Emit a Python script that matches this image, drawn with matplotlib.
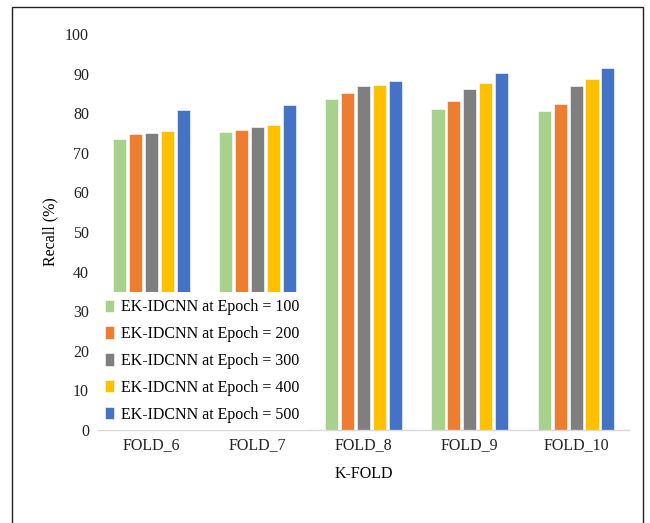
import matplotlib

matplotlib.use("Agg")
import matplotlib.pyplot as plt
import numpy as np
from matplotlib.patches import Rectangle

folds = ["FOLD_6", "FOLD_7", "FOLD_8", "FOLD_9", "FOLD_10"]
epochs = ["100", "200", "300", "400", "500"]

recall_e100 = [73.4, 75.2, 83.5, 81.1, 80.6]
recall_e200 = [74.7, 75.8, 85.0, 83.1, 82.2]
recall_e300 = [75.0, 76.6, 86.9, 86.1, 86.9]
recall_e400 = [75.4, 76.9, 87.2, 87.5, 88.6]
recall_e500 = [80.8, 82.0, 88.1, 90.1, 91.4]

series = [recall_e100, recall_e200, recall_e300, recall_e400, recall_e500]
colors = ["#A9D18E", "#ED7D31", "#7F7F7F", "#FFC000", "#4472C4"]

plt.rcParams["font.family"] = ["Liberation Serif", "DejaVu Serif"]

fig = plt.figure(figsize=(6.5, 5.23), dpi=100)
ax = fig.add_axes([0.151, 0.178, 0.817, 0.757])

x = np.arange(len(folds))
w = 0.15
for i, (vals, c, ep) in enumerate(zip(series, colors, epochs)):
    ax.bar(x + (i - 2) * w, vals, width=w * 0.82, color=c,
           edgecolor="white", linewidth=0.4,
           label=f"EK-IDCNN at Epoch = {ep}", zorder=2)

ax.set_xlim(-0.5, len(folds) - 0.5)
ax.set_ylim(0, 100)
ax.set_yticks(range(0, 101, 10))
ax.set_xticks(x)
ax.set_xticklabels(folds)
ax.tick_params(axis="both", length=0, labelsize=11.5, colors="#222")
ax.tick_params(axis="y", pad=6.5)
ax.tick_params(axis="x", pad=5.5)

for s in ["top", "right", "left"]:
    ax.spines[s].set_visible(False)
ax.spines["bottom"].set_color("#d9d9d9")
ax.spines["bottom"].set_linewidth(1.0)

ax.set_ylabel("Recall (%)", fontsize=11.5, labelpad=5)
ax.set_xlabel("K-FOLD", fontsize=11.5, labelpad=9)

# legend box sits over the lower-left bars and hides the axis line there
leg = ax.legend(loc="lower left", bbox_to_anchor=(0.0, 0.0), fontsize=11.5,
                frameon=True, framealpha=1, edgecolor="none", facecolor="white",
                handlelength=0.55, handleheight=0.8, handletextpad=0.45,
                labelspacing=0.68, borderpad=0.45, borderaxespad=0, fancybox=False)
leg.set_zorder(5)

# outer frame
fig.patches.append(Rectangle((12 / 650, -0.05), 631 / 650, 1.05 - 7 / 523,
                             transform=fig.transFigure, fill=False,
                             edgecolor="#222", linewidth=1.0))

fig.savefig("out.png", dpi=100, facecolor="white")
